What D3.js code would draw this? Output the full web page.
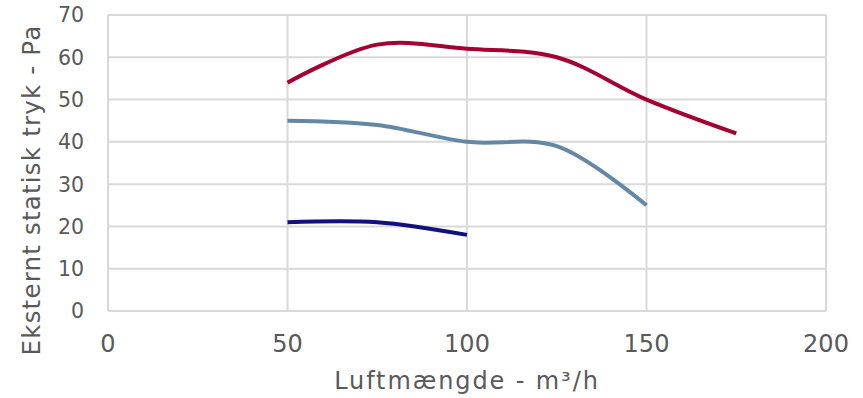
<!DOCTYPE html>
<html>
<head>
<meta charset="utf-8">
<script src="https://cdn.jsdelivr.net/npm/d3@7"></script>
<style>
  body { margin: 0; background: #fff; }
  svg { display: block; }
</style>
</head>
<body>
<div id="chart"></div>
<script>
// data
const airflow = [50, 75, 100, 125, 150, 175];
const seriesHigh = [54, 63, 62, 60, 50, 42];
const seriesMid = [45, 44, 40, 39, 25];
const seriesLow = [21, 21, 18];
const xTicks = [0, 50, 100, 150, 200];
const yTicks = [0, 10, 20, 30, 40, 50, 60, 70];

const seriesList = [
    { values: seriesHigh, color: "#a50032" },
    { values: seriesMid, color: "#6587a6" },
    { values: seriesLow, color: "#10107e" }
];

const width = 863, height = 398;
const margin = { top: 15, right: 37, bottom: 87, left: 108 };
const font = "DejaVu Sans, Verdana, sans-serif";

const svg = d3.select("#chart").append("svg")
    .attr("width", width)
    .attr("height", height);

const x = d3.scaleLinear().domain([0, 200]).range([margin.left, width - margin.right]);
const y = d3.scaleLinear().domain([0, 70]).range([height - margin.bottom, margin.top]);

// gridlines
svg.append("g")
    .selectAll("line")
    .data(yTicks)
    .join("line")
    .attr("x1", x(0)).attr("x2", x(200))
    .attr("y1", d => y(d)).attr("y2", d => y(d))
    .attr("stroke", "#d9d9d9")
    .attr("stroke-width", 2);
svg.append("g")
    .selectAll("line")
    .data(xTicks)
    .join("line")
    .attr("y1", y(0)).attr("y2", y(70))
    .attr("x1", d => x(d)).attr("x2", d => x(d))
    .attr("stroke", "#d9d9d9")
    .attr("stroke-width", 2);

// tick labels
svg.append("g")
    .selectAll("text")
    .data(yTicks)
    .join("text")
    .attr("x", 84)
    .attr("y", d => y(d))
    .attr("dy", "0.36em")
    .attr("text-anchor", "end")
    .attr("font-family", font)
    .attr("font-size", "20.5px")
    .attr("fill", "#595959")
    .text(d => d);
svg.append("g")
    .selectAll("text")
    .data(xTicks)
    .join("text")
    .attr("x", d => x(d))
    .attr("y", 351.5)
    .attr("text-anchor", "middle")
    .attr("font-family", font)
    .attr("font-size", "24px")
    .attr("fill", "#595959")
    .text(d => d);

// axis titles
svg.append("text")
    .attr("x", (x(0) + x(200)) / 2)
    .attr("y", 389)
    .attr("text-anchor", "middle")
    .attr("font-family", font)
    .attr("font-size", "24px")
    .attr("letter-spacing", "1.9px")
    .attr("fill", "#595959")
    .text("Luftmængde - m³/h");
svg.append("text")
    .attr("transform", "translate(40, 190) rotate(-90)")
    .attr("text-anchor", "middle")
    .attr("font-family", font)
    .attr("font-size", "24.5px")
    .attr("letter-spacing", "1.2px")
    .attr("fill", "#595959")
    .text("Eksternt statisk tryk - Pa");

// smoothed lines
const line = d3.line()
    .x((d, i) => x(airflow[i]))
    .y(d => y(d))
    .curve(d3.curveCatmullRom.alpha(0.5));

svg.append("g")
    .selectAll("path")
    .data(seriesList)
    .join("path")
    .attr("d", d => line(d.values))
    .attr("fill", "none")
    .attr("stroke", d => d.color)
    .attr("stroke-width", 4)
    .attr("stroke-linejoin", "round");
</script>
</body>
</html>
